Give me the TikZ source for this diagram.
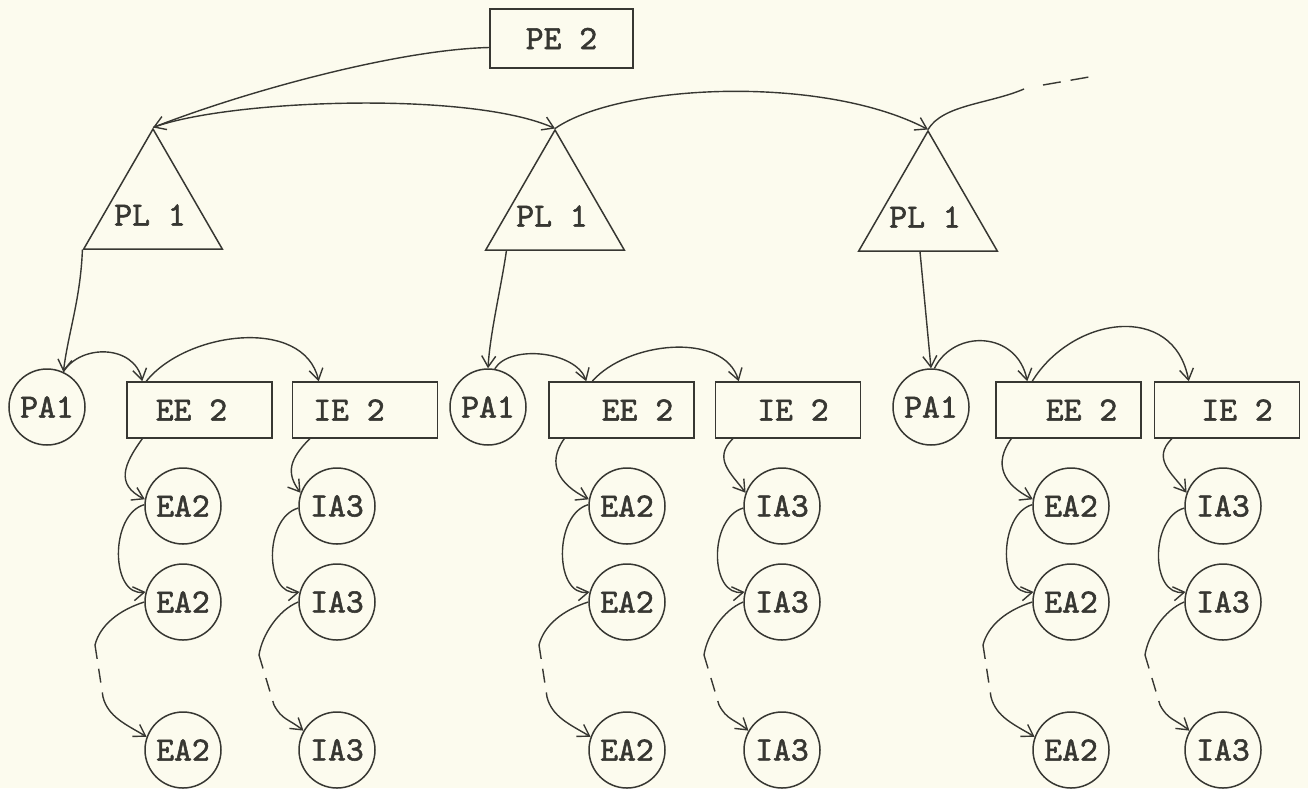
\documentclass[tikz,border=0pt]{standalone}
\usepackage{fontspec}
\newfontfamily\twfont{lmmono10-regular.otf}[FakeBold=1.6]
\usetikzlibrary{shapes.geometric,arrows.meta}
\definecolor{paper}{RGB}{252,251,238}
\definecolor{ink}{RGB}{55,55,50}
\begin{document}
\begin{tikzpicture}[x=1pt,y=-1pt,
  lbl/.style={text=ink,font=\fontsize{34}{40}\selectfont\twfont,inner sep=0pt},
  box/.style={draw=ink,line width=1.5pt,rectangle,minimum width=145pt,minimum height=56pt,inner sep=0pt},
  circ/.style={draw=ink,line width=1.5pt,circle,minimum size=76pt,inner sep=1pt,text=ink,font=\fontsize{34}{40}\selectfont\twfont},
  tri/.style={draw=ink,line width=1.5pt,regular polygon,regular polygon sides=3,minimum size=160pt,inner sep=0pt},
  con/.style={draw=ink,line width=1.4pt},
  arr/.style={con,-{Straight Barb[length=11pt,width=14pt]}},
  dsh/.style={con,dash pattern=on 14pt off 10pt}]
\fill[paper] (0,0) rectangle (1308,788);
\useasboundingbox (0,0) rectangle (1308,788);

% top level
\node[box,minimum width=143pt,minimum height=59pt,text=ink,font=\fontsize{34}{40}\selectfont\twfont] (pe) at (561.5,38.5) {PE 2};
\node[tri] (t1) at (153,209) {};
\node[tri] (t2) at (555,210) {};
\node[tri] (t3) at (928,211) {};
\node[lbl] (tl1) at (150,215) {PL 1};
\node[lbl] (tl2) at (552,216) {PL 1};
\node[lbl] (tl3) at (925,217) {PL 1};

\draw[arr] ([yshift=-9pt]pe.west) .. controls +(-90,2) and +(95,-37) .. (t1.corner 1);
\draw[arr] (t1.corner 1) .. controls +(75,-28) and +(-85,-38) .. (t2.corner 1);
\draw[arr] (t2.corner 1) .. controls +(65,-45) and +(-105,-55) .. (t3.corner 1);
\coordinate (tcs) at (1024,89);
\coordinate (tcd1) at (1043,85);
\coordinate (tcd2) at (1089,77);
\draw[con] (t3.corner 1) .. controls +(15,-25) and +(-35,15) .. (tcs);
\draw[con,dash pattern=on 18pt off 10pt] (tcd1) -- (tcd2);

% groups
\foreach \g/\pax/\eex/\iex/\eax/\iax/\eeo/\ieo in
  {1/47/127/293/183/337/-8/-16, 2/488/549/716/627/782/16/5, 3/931/996/1155/1071/1223/13/10} {
  \node[circ] (pa\g) at (\pax,407) {PA1};
  \node[box] (ee\g) at (\eex+72.5,410) {};
  \node[lbl] (eet\g) at (\eex+72.5+\eeo,410) {EE 2};
  \node[box] (ie\g) at (\iex+72,410) {};
  \node[lbl] (iet\g) at (\iex+72+\ieo,410) {IE 2};
  \node[circ] (ea\g1) at (\eax,506) {EA2};
  \node[circ] (ea\g2) at (\eax,602) {EA2};
  \node[circ] (ea\g3) at (\eax,750) {EA2};
  \node[circ] (ia\g1) at (\iax,506) {IA3};
  \node[circ] (ia\g2) at (\iax,602) {IA3};
  \node[circ] (ia\g3) at (\iax,750) {IA3};
  % EE chain
  \draw[arr] ([xshift=16pt]ee\g.south west) .. controls +(-18,25) and +(-30,-15) .. (ea\g1.170);
  \draw[arr] (ea\g1.178) .. controls +(-35,10) and +(-35,5) .. (ea\g2.165);
  \coordinate (ec\g1) at (\eax-88,645);
  \coordinate (ec\g2) at (\eax-80,697);
  \draw[con] (ea\g2.180) .. controls +(-25,8) and +(5,-20) .. (ec\g1);
  \draw[dsh] (ec\g1) -- (ec\g2);
  \draw[arr] (ec\g2) .. controls +(5,20) and +(-20,-12) .. (ea\g3.160);
  % IE chain
  \draw[arr] ([xshift=18pt]ie\g.south west) .. controls +(-20,20) and +(-15,-20) .. (ia\g1.160);
  \draw[arr] (ia\g1.183) .. controls +(-35,10) and +(-35,5) .. (ia\g2.165);
  \coordinate (ic\g1) at (\iax-78,655);
  \coordinate (ic\g2) at (\iax-63,705);
  \draw[con] (ia\g2.180) .. controls +(-20,8) and +(3,-20) .. (ic\g1);
  \draw[dsh] (ic\g1) -- (ic\g2);
  \draw[arr] (ic\g2) .. controls +(8,15) and +(-15,-12) .. (ia\g3.150);
}

% triangles to PA1
\draw[arr] (t1.corner 2) .. controls +(-2,50) and +(5,-40) .. (pa1.65);
\draw[arr] ([xshift=22pt]t2.corner 2) .. controls +(-5,35) and +(2,-35) .. (pa2.north);
\draw[arr] ([xshift=-8pt]t3.south) -- (pa3.north);

% PA1 to EE2
\draw[arr] (pa1.65) .. controls +(17,-28) and +(-8,-37) .. ([xshift=16pt]ee1.north west);
\draw[arr] (pa2.80) .. controls +(15,-25) and +(-10,-30) .. ([xshift=38pt]ee2.north west);
\draw[arr] (pa3.85) .. controls +(20,-40) and +(-10,-50) .. ([xshift=32pt]ee3.north west);

% EE2 to IE2
\draw[arr] ([xshift=20pt]ee1.north west) .. controls +(40,-50) and +(-15,-65) .. ([xshift=27pt]ie1.north west);
\draw[arr] ([xshift=44pt]ee2.north west) .. controls +(35,-40) and +(-15,-50) .. ([xshift=24pt]ie2.north west);
\draw[arr] ([xshift=37pt]ee3.north west) .. controls +(40,-65) and +(-15,-80) .. ([xshift=35pt]ie3.north west);
\end{tikzpicture}
\end{document}
